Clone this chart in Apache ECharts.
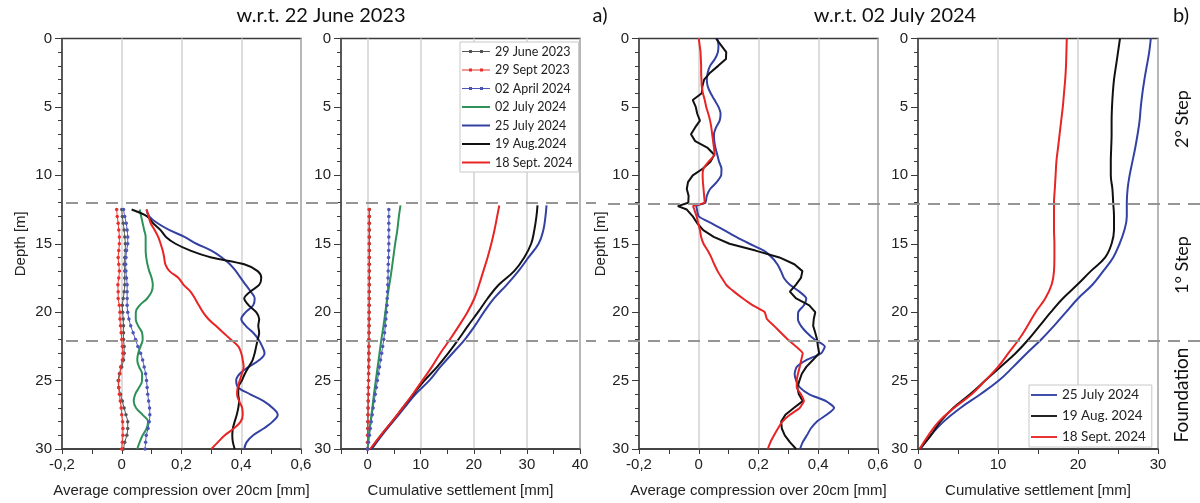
<!DOCTYPE html>
<html>
<head>
<meta charset="utf-8">
<script src="https://cdn.jsdelivr.net/npm/echarts@6/dist/echarts.min.js"></script>
<style>
html,body{margin:0;padding:0;background:#fff;}
#chart{width:1200px;height:503px;}
</style>
</head>
<body>
<div id="chart"></div>
<script>
// ---------- DATA ----------
// Layer boundaries (depth, m)
const layerBounds = [12, 22];

// Panel a (left): average compression w.r.t. 22 June 2023, depth 12.5..30 m
const depthA = [12.5,13,13.5,14,14.5,15,15.5,16,16.5,17,17.5,18,18.5,19,19.5,20,20.5,21,21.5,22,22.5,23,23.5,24,24.5,25,25.5,26,26.5,27,27.5,28,28.5,29,29.5,30];
const june23A = [0.0,0.002,0.005,0.008,0.01,0.012,0.012,0.01,0.008,0.01,0.01,0.01,0.008,0.005,0.002,0.003,0.005,0.006,0.006,0.006,0.008,0.008,0.006,0.0,-0.008,-0.012,-0.01,-0.004,0.002,0.008,0.014,0.02,0.02,0.017,0.01,0.006];
const sept23A = [-0.017,-0.015,-0.012,-0.01,-0.008,-0.008,-0.01,-0.012,-0.01,-0.008,-0.01,-0.013,-0.012,-0.012,-0.008,-0.006,-0.006,-0.004,-0.002,0.0,0.002,0.004,0.002,-0.004,-0.006,-0.01,-0.01,-0.008,-0.005,-0.002,0.0,0.003,0.004,0.004,0.002,0.0];
const apr24A = [0.006,0.01,0.015,0.018,0.02,0.02,0.016,0.014,0.013,0.014,0.016,0.018,0.018,0.018,0.018,0.02,0.024,0.03,0.038,0.046,0.054,0.063,0.07,0.075,0.08,0.083,0.085,0.087,0.09,0.093,0.094,0.092,0.088,0.082,0.08,0.078];
const jul02A = [0.06,0.065,0.07,0.075,0.08,0.08,0.08,0.082,0.086,0.092,0.1,0.104,0.1,0.085,0.06,0.047,0.047,0.055,0.068,0.07,0.063,0.055,0.052,0.058,0.068,0.068,0.058,0.045,0.04,0.048,0.07,0.088,0.083,0.07,0.06,0.052];
const jul25A = [0.083,0.092,0.12,0.16,0.21,0.25,0.3,0.335,0.362,0.382,0.398,0.415,0.432,0.445,0.44,0.415,0.4,0.415,0.44,0.458,0.47,0.478,0.46,0.425,0.395,0.383,0.39,0.43,0.475,0.505,0.522,0.505,0.475,0.44,0.418,0.41];
const aug19A = [0.033,0.085,0.105,0.13,0.148,0.18,0.23,0.3,0.41,0.455,0.467,0.46,0.43,0.41,0.425,0.45,0.46,0.457,0.46,0.455,0.45,0.445,0.438,0.425,0.412,0.402,0.39,0.39,0.393,0.39,0.385,0.378,0.372,0.37,0.372,0.378];
const sep18A = [0.083,0.09,0.097,0.11,0.122,0.13,0.137,0.142,0.146,0.16,0.19,0.207,0.23,0.245,0.258,0.272,0.29,0.315,0.34,0.365,0.39,0.4,0.405,0.408,0.402,0.395,0.388,0.386,0.393,0.403,0.405,0.398,0.375,0.345,0.322,0.3];

// Panel a (right): cumulative settlement w.r.t. 22 June 2023
const depthS = [12.2,13,14,15,16,17,18,19,20,21,22,23,24,25,26,27,28,29,30];
const jul02S = [6.2,5.9,5.6,5.2,4.85,4.5,4.1,3.7,3.35,3.0,2.6,2.25,1.9,1.55,1.2,0.9,0.55,0.25,0];
const jul25S = [33.7,33.5,33.1,32.2,30.3,28.4,26.2,23.8,21.9,20.2,18.3,16.0,13.7,11.6,9.0,6.9,4.8,2.7,0.8];
const aug19S = [32.0,31.8,31.4,30.8,29.5,27.6,24.7,22.6,20.8,18.9,17.1,15.2,13.1,10.7,8.6,6.6,4.6,2.5,0.6];
const sep18S = [24.8,24.4,23.9,23.3,22.6,21.8,21.0,20.1,18.8,17.2,15.5,13.7,12.1,10.3,8.5,6.6,4.6,2.5,0.5];
const june23S = [0.35,0.35,0.35,0.35,0.35,0.35,0.35,0.35,0.35,0.35,0.35,0.35,0.34,0.33,0.32,0.31,0.3,0.29,0.28,0.27,0.26,0.25,0.24,0.22,0.2,0.18,0.16,0.14,0.12,0.1,0.08,0.06,0.05,0.03,0.02,0.0];
const sept23S = [0.3,0.3,0.3,0.3,0.3,0.3,0.3,0.3,0.3,0.3,0.3,0.3,0.3,0.3,0.3,0.3,0.3,0.28,0.28,0.27,0.26,0.25,0.24,0.22,0.2,0.18,0.16,0.14,0.12,0.1,0.08,0.06,0.05,0.03,0.02,0.0];
const apr24S = [4.0,4.0,4.0,4.0,4.0,4.0,3.98,3.95,3.9,3.88,3.85,3.8,3.75,3.7,3.65,3.55,3.45,3.35,3.2,3.05,2.85,2.65,2.45,2.25,2.05,1.85,1.65,1.45,1.25,1.05,0.88,0.7,0.52,0.35,0.18,0.0];

// Panel b (left): average compression w.r.t. 02 July 2024, depth 0..30 m
const depthB = [0,0.5,1,1.5,2,2.5,3,3.5,4,4.5,5,5.5,6,6.5,7,7.5,8,8.5,9,9.5,10,10.5,11,11.5,12,12.25,12.5,13,13.5,14,14.5,15,15.5,16,16.5,17,17.5,18,18.5,19,19.5,20,20.5,21,21.5,22,22.5,23,23.5,24,24.5,25,25.5,26,26.5,27,27.5,28,28.5,29,29.5,30];
const jul25B = [0.062,0.066,0.064,0.054,0.038,0.03,0.027,0.03,0.04,0.053,0.066,0.073,0.07,0.058,0.051,0.052,0.056,0.062,0.068,0.076,0.075,0.06,0.038,0.027,0.022,-0.008,-0.006,0.0,0.042,0.085,0.125,0.17,0.218,0.245,0.263,0.275,0.285,0.305,0.337,0.36,0.352,0.333,0.332,0.342,0.362,0.388,0.422,0.41,0.36,0.328,0.321,0.326,0.338,0.37,0.426,0.453,0.428,0.395,0.375,0.362,0.348,0.339];
const aug19B = [0.058,0.075,0.092,0.091,0.065,0.038,0.018,0.012,0.01,-0.02,-0.01,-0.005,0.004,-0.012,-0.026,-0.012,0.03,0.052,0.039,0.014,-0.02,-0.036,-0.04,-0.034,-0.035,-0.07,-0.04,-0.02,-0.005,0.015,0.05,0.103,0.19,0.27,0.32,0.347,0.342,0.325,0.305,0.326,0.37,0.39,0.385,0.383,0.39,0.396,0.399,0.403,0.382,0.36,0.345,0.337,0.33,0.335,0.348,0.318,0.29,0.276,0.278,0.288,0.305,0.326];
const sep18B = [0.0,0.003,0.006,0.007,0.008,0.008,0.009,0.01,0.014,0.02,0.025,0.032,0.038,0.042,0.045,0.048,0.051,0.053,0.033,0.016,0.013,0.014,0.016,0.018,0.02,-0.019,-0.015,-0.007,-0.002,0.004,0.008,0.016,0.03,0.042,0.052,0.063,0.077,0.092,0.118,0.148,0.181,0.221,0.228,0.252,0.275,0.298,0.325,0.348,0.343,0.338,0.332,0.328,0.328,0.342,0.352,0.338,0.305,0.28,0.265,0.252,0.24,0.231];

// Panel b (right): cumulative settlement w.r.t. 02 July 2024
const depthC = [0,1,2,3,4,5,6,7,8,9,10,11,12,13,14,15,16,17,18,19,20,21,22,23,24,25,26,27,28,29,30];
const jul25C = [29.1,28.9,28.6,28.3,28.05,27.85,27.7,27.45,27.15,26.8,26.45,26.2,26.1,26.1,25.8,25.2,24.4,23.15,21.8,20.0,18.5,17.0,15.4,13.6,11.9,10.1,7.8,5.3,3.2,1.6,0.3];
const aug19C = [25.25,25.0,24.75,24.5,24.35,24.25,24.2,24.2,24.15,24.1,24.1,24.3,24.4,24.5,24.5,24.2,23.4,21.6,19.9,18.1,16.6,15.2,13.8,12.2,10.3,8.4,6.5,4.4,2.8,1.6,0.2];
const sep18C = [18.6,18.55,18.5,18.4,18.25,18.1,17.9,17.7,17.5,17.3,17.2,17.1,17.0,17.0,17.0,17.05,17.05,17.0,16.7,15.9,14.7,13.7,12.6,11.3,10.0,8.4,6.7,4.5,2.6,1.3,0.2];

// Texts
const legendA = ['29 June 2023','29 Sept 2023','02 April 2024','02 July 2024','25 July 2024','19 Aug.2024','18 Sept. 2024'];
const legendB = ['25 July 2024','19 Aug. 2024','18 Sept. 2024'];
const titles = ['w.r.t. 22 June 2023','a)','w.r.t. 02 July 2024','b)'];
const sideLabels = ['2° Step','1° Step','Foundation'];

// ---------- STYLE ----------
const NUMF = '"Liberation Sans", Arial, sans-serif';
const TXTF = 'Lato, "Noto Sans", sans-serif';
const C = {gray:'#555555', redDot:'#e8302c', blueDot:'#4b56b8', green:'#2e9158', blue:'#3341a3', black:'#111111', red:'#e82424'};
const AX = '#3a3a3a';
// legend glyphs: plain line, and line with two small markers
const ICON_LINE = 'path://M0,0 M28,12 M0,5 L28,5 L28,7 L0,7 Z';
const ICON_DOTS = 'path://M0,0 M28,12 M0,5.5 L28,5.5 L28,6.5 L0,6.5 Z M7,4.5 L10,4.5 L10,7.5 L7,7.5 Z M18,4.5 L21,4.5 L21,7.5 L18,7.5 Z';
const dottedNames = ['29 June 2023','29 Sept 2023','02 April 2024'];

function pairs(vals, depths){ return vals.map((v,i)=>[v, depths[i]]); }
function solid(name, color, vals, depths, idx, smooth){
  return {type:'line', name, xAxisIndex:idx, yAxisIndex:idx, data:pairs(vals,depths),
    symbol:'none', smooth:smooth, lineStyle:{color, width:2}, itemStyle:{color}, z:3};
}
function dotted(name, color, vals, depths, idx){
  return {type:'line', name, xAxisIndex:idx, yAxisIndex:idx, data:pairs(vals,depths),
    symbol:'circle', symbolSize:3.5, showSymbol:true, smooth:0.3,
    lineStyle:{color, width:1}, itemStyle:{color}, z:3};
}
const comma = v => { const r = Math.round(v*10)/10; return r === 0 ? '0' : String(r).replace('.', ','); };

function xAx(gi, o){
  return Object.assign({
    type:'value', gridIndex:gi, position:'bottom',
    axisLine:{show:true, onZero:false, lineStyle:{color:AX, width:1.5}},
    axisTick:{show:true, length:5, lineStyle:{color:AX, width:1}},
    minorTick:{show:true, splitNumber:2, length:5, lineStyle:{color:AX, width:1}},
    axisLabel:{fontSize:15, color:'#222', fontFamily:NUMF, margin:8},
    splitLine:{show:true, lineStyle:{color:'#d2d2d2', width:1.5}},
    nameLocation:'middle', nameGap:34,
    nameTextStyle:{fontSize:15, color:'#222', fontFamily:NUMF}
  }, o);
}
function yAx(gi, name, gap){
  return {
    type:'value', gridIndex:gi, min:0, max:30, interval:5, inverse:true,
    axisLine:{show:true, onZero:false, lineStyle:{color:AX, width:1.5}},
    axisTick:{show:true, length:7, lineStyle:{color:AX, width:1}},
    minorTick:{show:true, splitNumber:5, length:4, lineStyle:{color:AX, width:1}},
    axisLabel:{fontSize:15, color:'#222', fontFamily:NUMF, margin:10},
    splitLine:{show:false},
    name:name, nameLocation:'middle', nameGap:gap,
    nameTextStyle:{fontSize:15, color:'#222', fontFamily:NUMF}
  };
}
const hiddenX = gi => ({type:'value', gridIndex:gi, min:0, max:1, show:false});
const hiddenY = gi => ({type:'value', gridIndex:gi, min:0, max:30, inverse:true, show:false});

const gridBase = {show:true, borderColor:AX, borderWidth:1.5, backgroundColor:'transparent'};
const option = {
  animation:false,
  backgroundColor:'#fff',
  grid:[
    Object.assign({left:62, top:38.5, width:239, height:411.5}, gridBase),
    Object.assign({left:341, top:38.5, width:239, height:411.5}, gridBase),
    Object.assign({left:639, top:38.5, width:239, height:412.5}, gridBase),
    Object.assign({left:918, top:38.5, width:240, height:412.5}, gridBase),
    {left:66, top:38.5, width:530, height:411.5, show:false},
    {left:608, top:38.5, width:592, height:412.5, show:false}
  ],
  xAxis:[
    xAx(0, {min:-0.2, max:0.6, interval:0.2, name:'Average compression over 20cm [mm]', axisLabel:{fontSize:15, color:'#222', fontFamily:NUMF, margin:8, formatter:comma}}),
    xAx(1, {min:-5, max:40, splitNumber:5, name:'Cumulative settlement [mm]', axisLabel:{fontSize:15, color:'#222', fontFamily:NUMF, margin:8, formatter:v => v < 0 ? '' : String(v)}}),
    xAx(2, {min:-0.2, max:0.6, interval:0.2, name:'Average compression over 20cm [mm]', axisLabel:{fontSize:15, color:'#222', fontFamily:NUMF, margin:8, formatter:comma}}),
    xAx(3, {min:0, max:30, interval:10, name:'Cumulative settlement [mm]'}),
    hiddenX(4), hiddenX(5)
  ],
  yAxis:[
    yAx(0, 'Depth [m]', 34), yAx(1, '', 0), yAx(2, 'Depth [m]', 24), yAx(3, '', 0),
    hiddenY(4), hiddenY(5)
  ],
  legend:[
    {data:legendA.map(n => ({name:n, icon: dottedNames.includes(n) ? ICON_DOTS : ICON_LINE})),
     left:460, top:42, orient:'vertical', itemWidth:28, itemHeight:12, itemGap:5.5,
     padding:[3,6,3,2], backgroundColor:'#fff', borderColor:'#c8c8c8', borderWidth:1,
     textStyle:{fontSize:12.5, color:'#222', fontFamily:TXTF}},
    {data:legendB.map(n => ({name:n, icon:ICON_LINE})),
     left:1029, top:385, orient:'vertical', itemWidth:26, itemHeight:12, itemGap:7,
     padding:[3,6,3,2], backgroundColor:'#fff', borderColor:'#c8c8c8', borderWidth:1,
     textStyle:{fontSize:13.5, color:'#222', fontFamily:TXTF}}
  ],
  series:[
    // panel 1
    dotted('29 June 2023', C.gray, june23A, depthA, 0),
    dotted('29 Sept 2023', C.redDot, sept23A, depthA, 0),
    dotted('02 April 2024', C.blueDot, apr24A, depthA, 0),
    solid('02 July 2024', C.green, jul02A, depthA, 0, 0.4),
    solid('25 July 2024', C.blue, jul25A, depthA, 0, 0.4),
    solid('19 Aug.2024', C.black, aug19A, depthA, 0, 0.3),
    solid('18 Sept. 2024', C.red, sep18A, depthA, 0, 0.4),
    // panel 2
    dotted('29 June 2023', C.gray, june23S, depthA, 1),
    dotted('29 Sept 2023', C.redDot, sept23S, depthA, 1),
    dotted('02 April 2024', C.blueDot, apr24S, depthA, 1),
    solid('02 July 2024', C.green, jul02S, depthS, 1, 0.4),
    solid('25 July 2024', C.blue, jul25S, depthS, 1, 0.4),
    solid('19 Aug.2024', C.black, aug19S, depthS, 1, 0.4),
    solid('18 Sept. 2024', C.red, sep18S, depthS, 1, 0.4),
    // panel 3
    solid('25 July 2024', C.blue, jul25B, depthB, 2, 0.2),
    solid('19 Aug. 2024', C.black, aug19B, depthB, 2, 0),
    solid('18 Sept. 2024', C.red, sep18B, depthB, 2, 0.1),
    // panel 4
    solid('25 July 2024', C.blue, jul25C, depthC, 3, 0.4),
    solid('19 Aug. 2024', C.black, aug19C, depthC, 3, 0.4),
    solid('18 Sept. 2024', C.red, sep18C, depthC, 3, 0.4),
    // layer boundaries
    {type:'line', name:'boundsA', xAxisIndex:4, yAxisIndex:4, data:[], silent:true, z:5,
     markLine:{silent:true, symbol:'none', label:{show:false},
       lineStyle:{color:'#959595', width:2, type:[12,8]},
       data:layerBounds.map(d => ({yAxis:d}))}},
    {type:'line', name:'boundsB', xAxisIndex:5, yAxisIndex:5, data:[], silent:true, z:5,
     markLine:{silent:true, symbol:'none', label:{show:false},
       lineStyle:{color:'#959595', width:2, type:[12,8]},
       data:layerBounds.map(d => ({yAxis:d}))}}
  ],
  graphic:[
    {type:'text', x:321, y:16, style:{text:titles[0], fontSize:20, fontFamily:TXTF, fill:'#111', align:'center', verticalAlign:'middle'}},
    {type:'text', x:600, y:16, style:{text:titles[1], fontSize:20, fontFamily:TXTF, fill:'#111', align:'center', verticalAlign:'middle'}},
    {type:'text', x:895, y:16, style:{text:titles[2], fontSize:20, fontFamily:TXTF, fill:'#111', align:'center', verticalAlign:'middle'}},
    {type:'text', x:1181, y:16, style:{text:titles[3], fontSize:20, fontFamily:TXTF, fill:'#111', align:'center', verticalAlign:'middle'}},
    {type:'text', x:1182, y:119, rotation:Math.PI/2, style:{text:sideLabels[0], fontSize:18, fontFamily:TXTF, fill:'#111', align:'center', verticalAlign:'middle'}},
    {type:'text', x:1182, y:265, rotation:Math.PI/2, style:{text:sideLabels[1], fontSize:18, fontFamily:TXTF, fill:'#111', align:'center', verticalAlign:'middle'}},
    {type:'text', x:1182, y:395, rotation:Math.PI/2, style:{text:sideLabels[2], fontSize:19, fontFamily:TXTF, fill:'#111', align:'center', verticalAlign:'middle'}}
  ]
};
const chart = echarts.init(document.getElementById('chart'), null, {renderer:'canvas'});
chart.setOption(option);
</script>
</body>
</html>
